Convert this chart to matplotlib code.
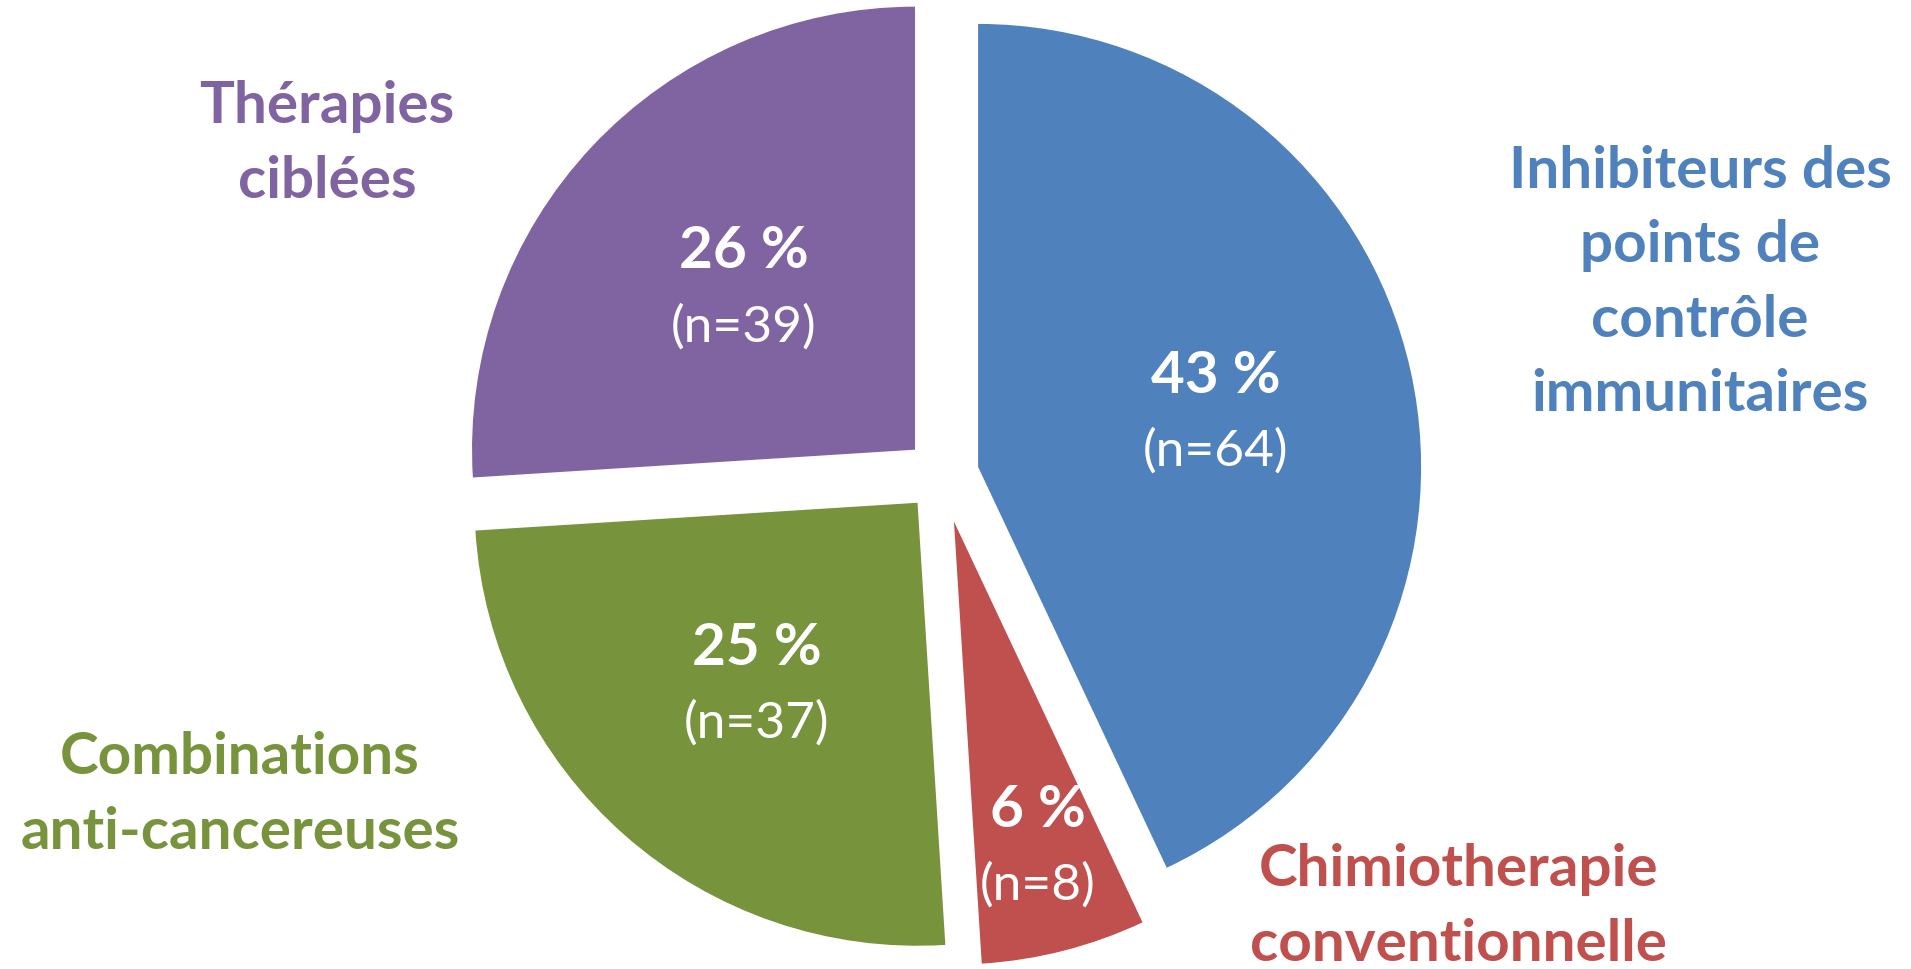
import numpy as np
import matplotlib.pyplot as plt

# données
categories = ["Inhibiteurs des\npoints de\ncontrôle\nimmunitaires",
              "Chimiotherapie\nconventionnelle",
              "Combinations\nanti-cancereuses",
              "Thérapies\nciblées"]
effectifs = [64, 8, 37, 39]
pourcentages = [43, 6, 25, 26]
couleurs = ["#4F81BD", "#C0504D", "#77933C", "#8064A2"]

# mise en page (explode en pixels, pas en fraction du rayon)
explode = [37, 48, 37, 37]
dist_labels = [0.55, 0.76, 0.55, 0.53]
pos_categories = [(1700, 686), (1459, 62), (240, 174), (327, 825)]

plt.rcParams['font.family'] = ['Lato', 'DejaVu Sans']

fig = plt.figure(figsize=(19.11, 9.69), dpi=100)
ax = fig.add_axes([0, 0, 1, 1])

# les secteurs suivent les pourcentages affichés
wedges, _ = ax.pie(pourcentages, colors=couleurs, startangle=90, counterclock=False,
                   explode=explode, center=(942, 494), radius=443,
                   wedgeprops=dict(linewidth=0))
ax.set_xlim(0, 1911)
ax.set_ylim(0, 969)
ax.set_aspect('equal')
ax.axis('off')

taille = 42
for w, pct, n, f in zip(wedges, pourcentages, effectifs, dist_labels):
    milieu = np.deg2rad((w.theta1 + w.theta2) / 2)
    x = w.center[0] + f * w.r * np.cos(milieu)
    y = w.center[1] + f * w.r * np.sin(milieu)
    ax.text(x, y + 37, f"{pct} %", ha='center', va='center', color='white',
            fontsize=taille, fontweight='bold')
    ax.text(x, y - 38, f"(n={n})", ha='center', va='center', color='white',
            fontsize=37)

for cat, c, (x, y) in zip(categories, couleurs, pos_categories):
    ax.text(x, y, cat, ha='center', va='center', color=c, fontsize=taille,
            fontweight='bold', linespacing=1.5)

fig.savefig('out.png', dpi=100)
